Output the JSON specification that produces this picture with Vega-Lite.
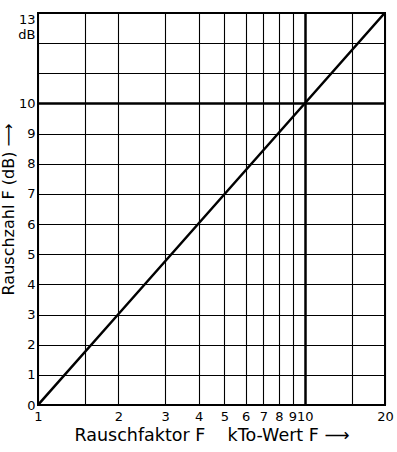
{
  "$schema": "https://vega.github.io/schema/vega-lite/v6.json",
  "width": 347,
  "height": 392,
  "autosize": {"type": "none"},
  "padding": {"left": 38, "top": 13, "right": 12, "bottom": 47},
  "background": "white",
  "config": {
    "view": {"stroke": "black", "strokeWidth": 2},
    "font": "DejaVu Sans"
  },
  "data": {
    "values": [
      {"F": 1, "dB": 0},
      {"F": 2, "dB": 3.01},
      {"F": 5, "dB": 6.99},
      {"F": 10, "dB": 10},
      {"F": 20, "dB": 13.01}
    ]
  },
  "mark": {"type": "line", "color": "black", "strokeWidth": 2.5, "clip": true},
  "encoding": {
    "x": {
      "field": "F",
      "type": "quantitative",
      "scale": {"type": "log", "domain": [1, 20], "nice": false},
      "axis": {
        "values": [1, 1.5, 2, 3, 4, 5, 6, 7, 8, 9, 10, 15, 20],
        "labelExpr": "datum.value == 1.5 || datum.value == 15 ? '' : datum.value",
        "grid": true,
        "gridColor": "black",
        "gridOpacity": 1,
        "gridWidth": {"condition": {"test": "datum.value == 10", "value": 2.5}, "value": 1.1},
        "ticks": false,
        "domain": false,
        "labelFontSize": 13,
        "labelColor": "black",
        "labelPadding": 5,
        "labelFlush": false,
        "labelOverlap": false,
        "title": "Rauschfaktor F\u00a0\u00a0\u00a0\u00a0kTo-Wert F\u00a0⟶",
        "titleFontSize": 17.5,
        "titleFontWeight": "normal",
        "titleColor": "black",
        "titlePadding": 3
      }
    },
    "y": {
      "field": "dB",
      "type": "quantitative",
      "scale": {"domain": [0, 13], "nice": false},
      "axis": {
        "values": [0, 1, 2, 3, 4, 5, 6, 7, 8, 9, 10, 11, 12, 13],
        "labelExpr": "datum.value == 13 ? ['13', 'dB'] : (datum.value > 10 ? '' : datum.value)",
        "labelBaseline": {"condition": {"test": "datum.value == 13", "value": "top"}, "value": "middle"},
        "grid": true,
        "gridColor": "black",
        "gridOpacity": 1,
        "gridWidth": {"condition": {"test": "datum.value == 10", "value": 2.5}, "value": 1.1},
        "ticks": false,
        "domain": false,
        "labelFontSize": 13,
        "labelColor": "black",
        "labelPadding": 3,
        "labelFlush": false,
        "labelOverlap": false,
        "title": "Rauschzahl F (dB) ⟶",
        "titleFontSize": 16,
        "titleFontWeight": "normal",
        "titleColor": "black",
        "titlePadding": 1
      }
    }
  }
}
